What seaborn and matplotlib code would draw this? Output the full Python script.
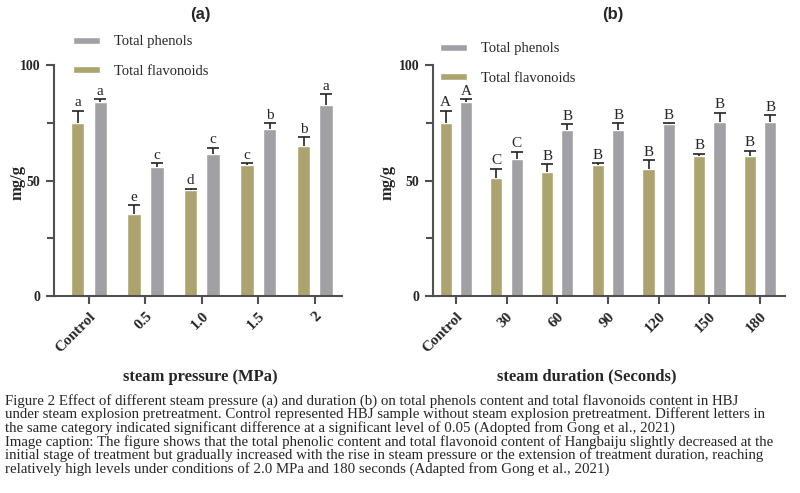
import numpy as np
import pandas as pd
import seaborn as sb
import matplotlib
matplotlib.use("Agg")
import matplotlib.pyplot as plt

# panel (a): steam pressure
pressure_cats = ["Control", "0.5", "1.0", "1.5", "2"]
pressure_flav = [74.8, 35.4, 45.9, 56.6, 65.1]
pressure_flav_err = [5.4, 4.0, 0.6, 0.8, 3.6]
pressure_phen = [84.1, 56.0, 61.3, 72.2, 82.8]
pressure_phen_err = [1.0, 1.4, 2.9, 2.6, 4.5]
pressure_flav_letters = ["a", "e", "d", "c", "b"]
pressure_phen_letters = ["a", "c", "c", "b", "a"]

# panel (b): steam duration
duration_cats = ["Control", "30", "60", "90", "120", "150", "180"]
duration_flav = [74.8, 51.2, 53.7, 56.6, 54.8, 60.5, 60.6]
duration_flav_err = [5.4, 3.9, 3.3, 0.8, 4.1, 1.1, 2.3]
duration_phen = [84.1, 59.2, 72.0, 72.0, 74.6, 75.3, 75.2]
duration_phen_err = [1.0, 3.3, 2.5, 2.8, 0.3, 4.1, 3.2]
duration_flav_letters = ["A", "C", "B", "B", "B", "B", "B"]
duration_phen_letters = ["A", "C", "B", "B", "B", "B", "B"]

caption_lines = [
    "Figure 2 Effect of different steam pressure (a) and duration (b) on total phenols content and total flavonoids content in HBJ",
    "under steam explosion pretreatment. Control represented HBJ sample without steam explosion pretreatment. Different letters in",
    "the same category indicated significant difference at a significant level of 0.05 (Adopted from Gong et al., 2021)",
    "Image caption: The figure shows that the total phenolic content and total flavonoid content of Hangbaiju slightly decreased at the",
    "initial stage of treatment but gradually increased with the rise in steam pressure or the extension of treatment duration, reaching",
    "relatively high levels under conditions of 2.0 MPa and 180 seconds (Adapted from Gong et al., 2021)",
]

FLAV = "Total flavonoids"
PHEN = "Total phenols"
flav_color = "#ADA36E"
phen_color = "#A1A1A5"
axis_color = "#505050"
err_color = "#222222"
serif = ["Liberation Serif", "DejaVu Serif"]
sans = ["Liberation Sans", "DejaVu Sans"]

sb.set_style("ticks")
plt.rcParams["font.family"] = serif


def panel(ax, cats, flav, flav_err, phen, phen_err, flav_letters, phen_letters, xlim, legend_pos):
    df = pd.DataFrame({
        "cat": cats * 2,
        "group": [FLAV] * len(cats) + [PHEN] * len(cats),
        "value": flav + phen,
    })
    sb.barplot(data=df, x="cat", y="value", hue="group", hue_order=[FLAV, PHEN],
               palette=[flav_color, phen_color], width=0.8, gap=0.4,
               errorbar=None, saturation=1, ax=ax, legend=False)

    # upper-only error bars (stem + top cap) and significance letters
    for cont, vals, errs, letters in zip(ax.containers, [flav, phen], [flav_err, phen_err],
                                         [flav_letters, phen_letters]):
        xs = [b.get_x() + b.get_width() / 2 for b in cont]
        tops = [v + e for v, e in zip(vals, errs)]
        ax.vlines(xs, vals, tops, color=err_color, lw=1.2, zorder=3)
        ax.plot(xs, tops, ls="none", marker="_", ms=8, mew=1.2, color=err_color, zorder=3)
        for x, t_y, t in zip(xs, tops, letters):
            ax.annotate(t, (x, t_y), xytext=(0, 1), textcoords="offset points",
                        ha="center", va="bottom", fontsize=11, family=serif)

    ax.set_ylim(0, 100)
    ax.set_xlim(*xlim)
    ax.set_yticks([0, 50, 100])
    ax.set_yticks([25, 75], minor=True)
    ax.set_yticklabels(["0", "50", "100"], fontsize=10, fontweight="bold", family=serif)
    ax.set_xticks(range(len(cats)))
    ax.set_xticklabels(cats, rotation=45, ha="right", rotation_mode="anchor",
                       fontsize=11, fontweight="bold", family=serif)
    ax.set_xlabel("")
    ax.set_ylabel("")
    sb.despine(ax=ax)
    for s in ["left", "bottom"]:
        ax.spines[s].set_color(axis_color)
        ax.spines[s].set_linewidth(1.5)
    ax.tick_params(which="both", direction="out", color=axis_color, width=1.5)
    ax.tick_params(which="major", length=6, pad=4)
    ax.tick_params(which="minor", length=5)

    handles = list(ax.containers[1][:1]) + list(ax.containers[0][:1])
    fig.legend(handles, [PHEN, FLAV], loc="upper left", bbox_to_anchor=legend_pos,
               bbox_transform=fig.transFigure, frameon=False, borderpad=0,
               handlelength=1.8, handleheight=0.35, handletextpad=1.0,
               labelspacing=1.15, prop={"family": serif, "size": 10.5})


fig = plt.figure(figsize=(8, 4.93), dpi=100)
W, H = 800, 493
ax_a = fig.add_axes([54 / W, 1 - 296 / H, 288 / W, 231 / H])
ax_b = fig.add_axes([433 / W, 1 - 296 / H, 352 / W, 231 / H])

panel(ax_a, pressure_cats, pressure_flav, pressure_flav_err, pressure_phen, pressure_phen_err,
      pressure_flav_letters, pressure_phen_letters, (-0.62, 4.48), (66 / W, 1 - 28 / H))
panel(ax_b, duration_cats, duration_flav, duration_flav_err, duration_phen, duration_phen_err,
      duration_flav_letters, duration_phen_letters, (-0.45, 6.49), (433 / W, 1 - 35 / H))

fig.text(200 / W, 1 - 15 / H, "(a)", ha="center", va="center", fontsize=12,
         fontweight="bold", family=sans)
fig.text(613 / W, 1 - 15 / H, "(b)", ha="center", va="center", fontsize=12,
         fontweight="bold", family=sans)
fig.text(18 / W, 1 - 183 / H, "mg/g", rotation=90, ha="center", va="center",
         fontsize=12, fontweight="bold")
fig.text(387 / W, 1 - 183 / H, "mg/g", rotation=90, ha="center", va="center",
         fontsize=12, fontweight="bold")
fig.text(200 / W, 1 - 377 / H, "steam pressure (MPa)", ha="center", va="center",
         fontsize=12, fontweight="bold")
fig.text(587 / W, 1 - 376 / H, "steam duration (Seconds)", ha="center", va="center",
         fontsize=12, fontweight="bold")

for i, line in enumerate(caption_lines):
    fig.text(5 / W, 1 - (401 + 13.6 * i) / H, line, ha="left", va="center", fontsize=10.7)

fig.savefig("out.png", dpi=100)
